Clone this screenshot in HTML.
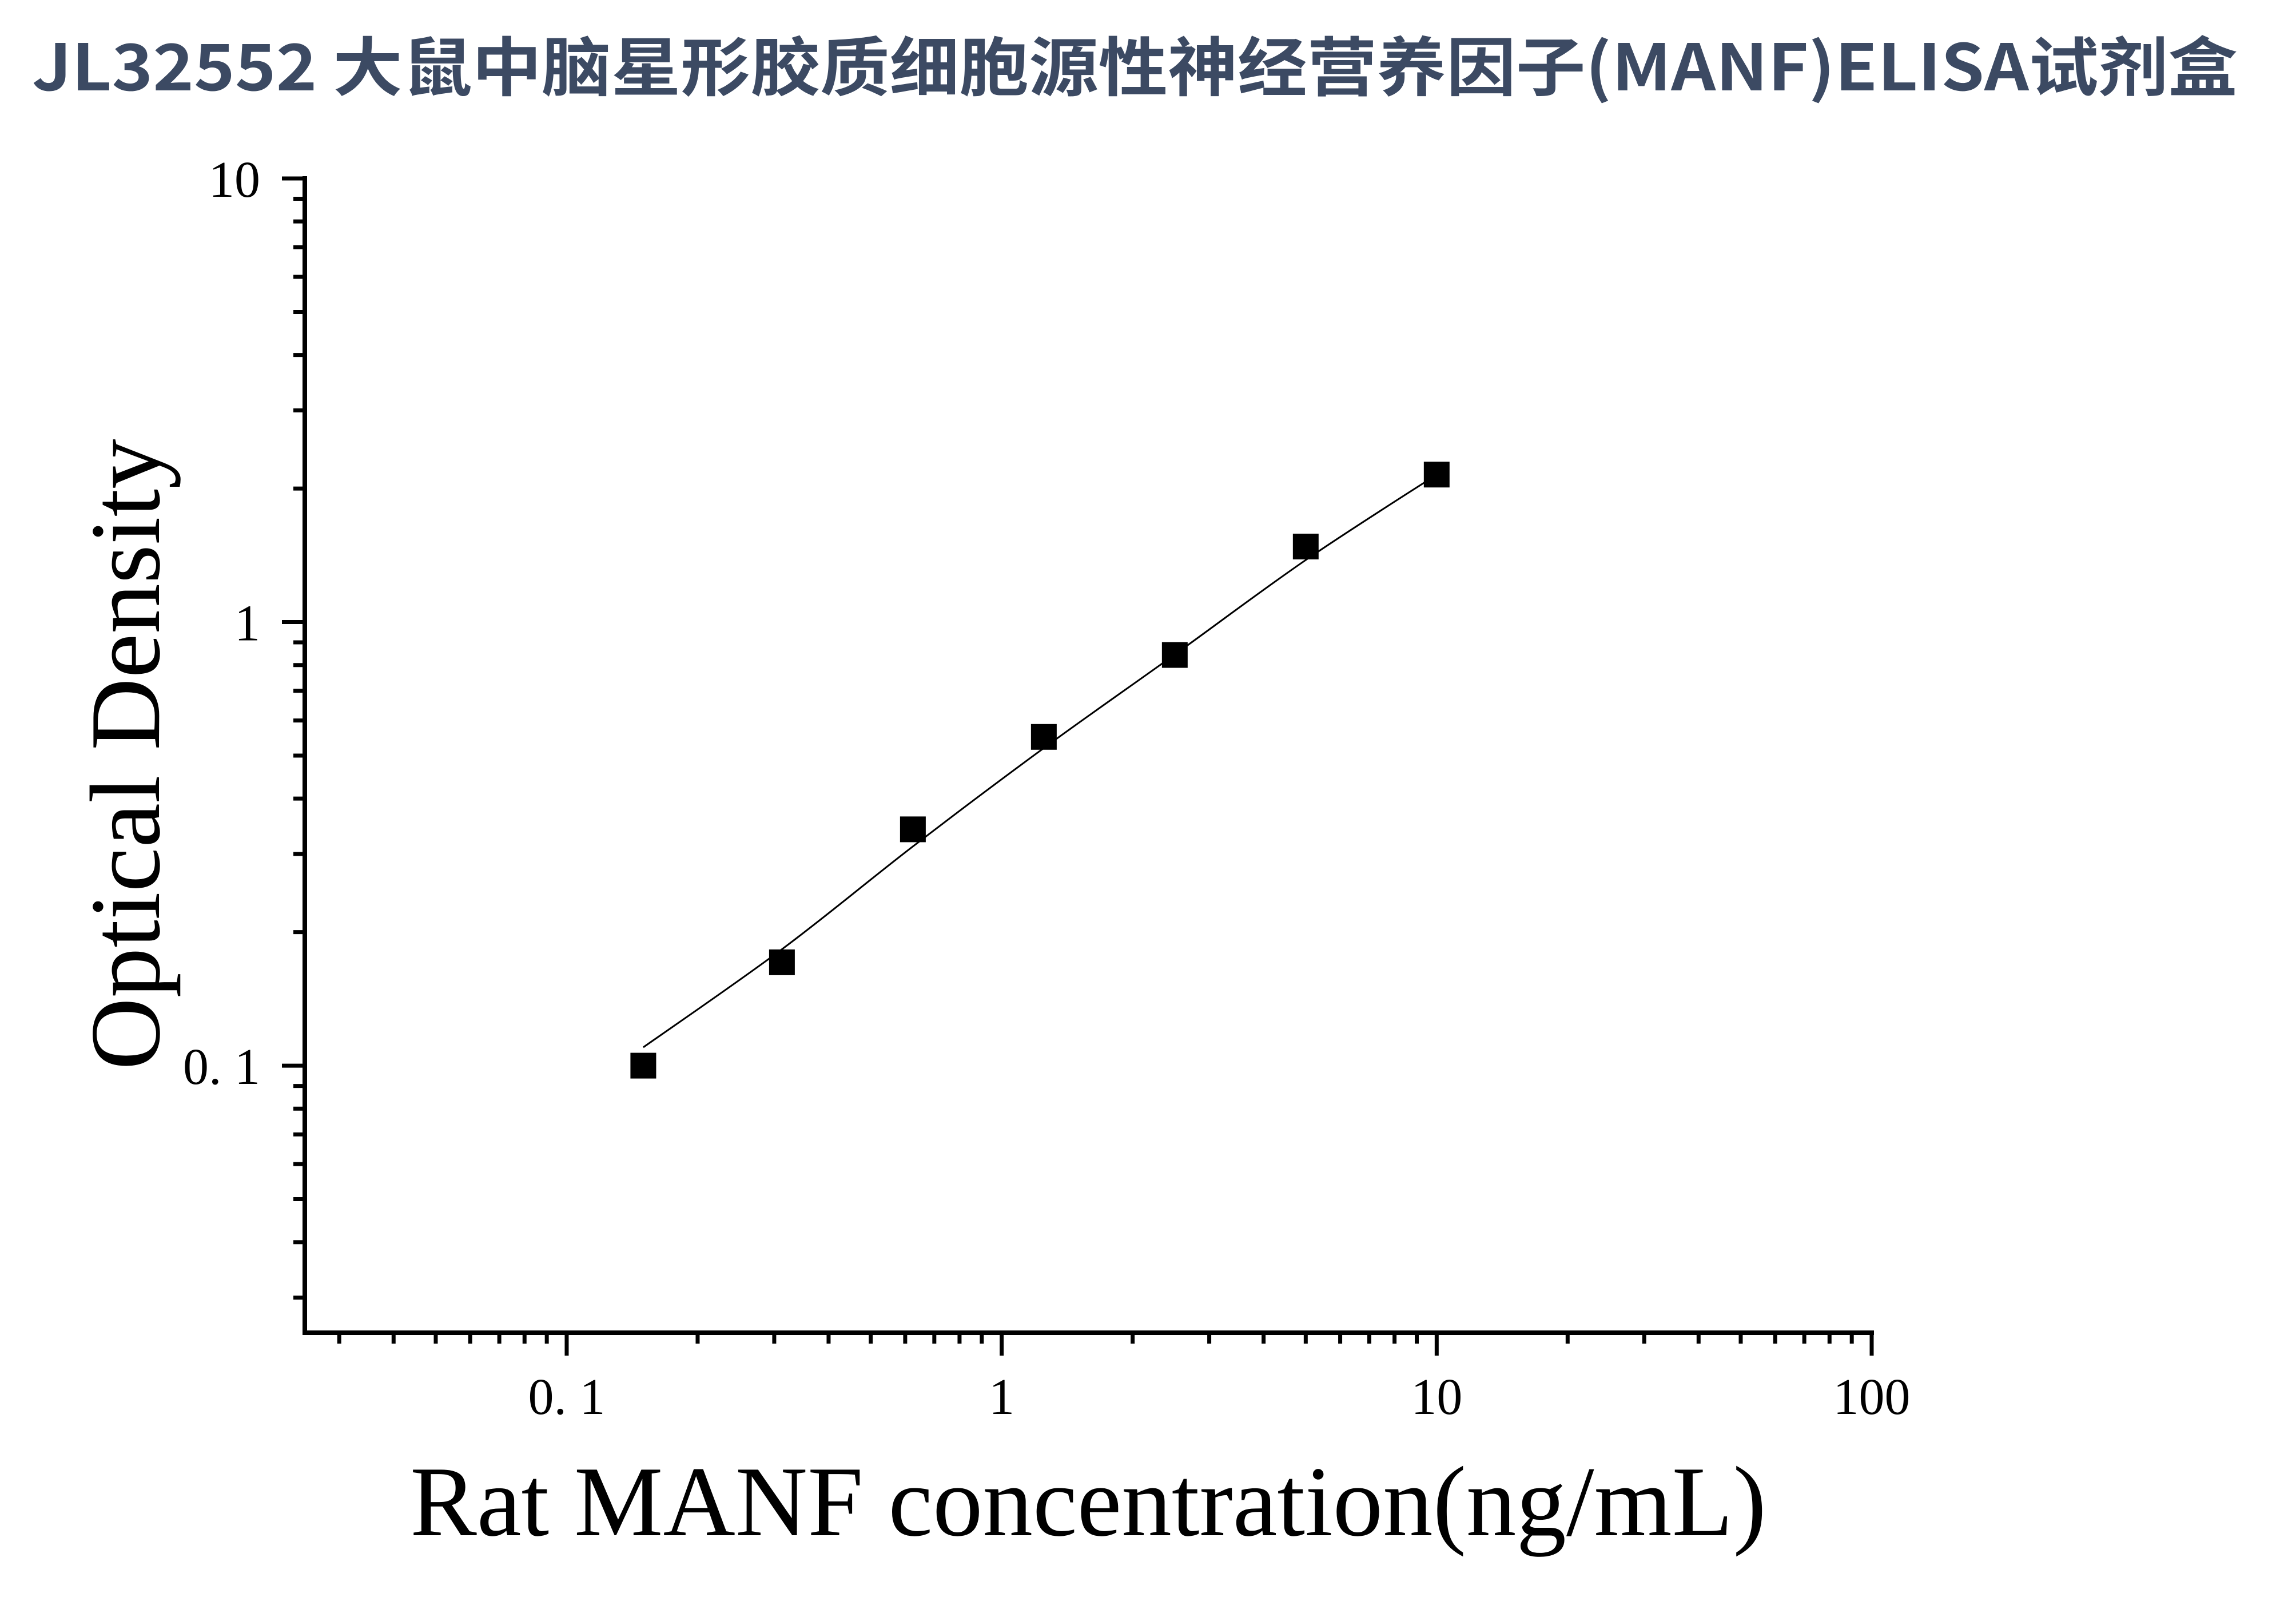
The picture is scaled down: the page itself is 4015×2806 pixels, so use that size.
<!DOCTYPE html>
<html><head><meta charset="utf-8"><style>
html,body{margin:0;padding:0;background:#fff;}
svg{display:block;}
</style></head><body>
<svg id="chart" width="4015" height="2806" viewBox="0 0 4015 2806" xmlns="http://www.w3.org/2000/svg">
<rect x="0" y="0" width="4015" height="2806" fill="#fff"/>
<text x="56" y="158" textLength="3857" lengthAdjust="spacingAndGlyphs" font-family="'Noto Sans CJK SC','Liberation Sans',sans-serif" font-weight="bold" font-size="112" fill="#3c4a63">JL32552 大鼠中脑星形胶质细胞源性神经营养因子(MANF)ELISA试剂盒</text>
<g id="axes"></g>
<g id="curve"></g>
<g id="points"></g>
<text transform="translate(278,1319) rotate(-90)" text-anchor="middle" font-family="'Liberation Serif',serif" font-size="175" fill="#000">Optical Density</text>
<text x="1903" y="2684" text-anchor="middle" font-family="'Liberation Serif',serif" font-size="175" fill="#000">Rat MANF concentration(ng/mL)</text>
</svg>
<script>
const concentrations = [0.15, 0.3125, 0.625, 1.25, 2.5, 5, 10];
const odValues = [0.1, 0.171, 0.341, 0.551, 0.843, 1.48, 2.15];
const curveX = [0.15, 0.3125, 0.625, 1.25, 2.5, 5, 10];
const curveY = [0.11, 0.183, 0.312, 0.52, 0.845, 1.38, 2.15];
const xTickValues = [0.1, 1, 10, 100];
const xTickLabels = ["0. 1", "1", "10", "100"];
const yTickValues = [0.1, 1, 10];
const yTickLabels = ["0. 1", "1", "10"];
const xDomain = [0.025, 100];
const yDomain = [0.025, 10];

const NS = "http://www.w3.org/2000/svg";
const X0 = 533, X1 = 3273, Y0 = 2330, Y1 = 312;
function xs(v){ const a=Math.log10(xDomain[0]), b=Math.log10(xDomain[1]); return X0 + (Math.log10(v)-a)/(b-a)*(X1-X0); }
function ys(v){ const a=Math.log10(yDomain[0]), b=Math.log10(yDomain[1]); return Y0 - (Math.log10(v)-a)/(b-a)*(Y0-Y1); }
function mk(tag, attrs, parent){ const e=document.createElementNS(NS,tag); for(const k in attrs) e.setAttribute(k, attrs[k]); parent.appendChild(e); return e; }

const axes = document.getElementById('axes');
const xAxis = mk('line',{x1:X0-4,y1:Y0,x2:X1+4,y2:Y0,stroke:'#000','stroke-width':8},axes);


const yAxis = mk('line',{x1:X0,y1:Y0+4,x2:X0,y2:Y1-4,stroke:'#000','stroke-width':8},axes);



for (let d=-2; d<=2; d++){
  for (let m=1; m<=9; m++){
    const v = m*Math.pow(10,d);
    if (v >= xDomain[0]*0.999 && v <= xDomain[1]*1.001){
      const x = xs(v); const major = (m===1);
      const t = mk('line',{x1:x,y1:Y0,x2:x,y2:Y0+(major?40:19),stroke:'#000','stroke-width':7},axes);
      
      
    }
    if (v >= yDomain[0]*0.999 && v <= yDomain[1]*1.001){
      const y = ys(v); const major = (m===1);
      const t = mk('line',{x1:X0,y1:y,x2:X0-(major?40:20),y2:y,stroke:'#000','stroke-width':7},axes);
      
      
    }
  }
}
xTickValues.forEach((v,i)=>{
  const t = mk('text',{x:xs(v),y:2472,'text-anchor':'middle','font-family':"'Liberation Serif',serif",'font-size':90,fill:'#000'},axes);
  t.textContent = xTickLabels[i];
  
  
});
yTickValues.forEach((v,i)=>{
  const t = mk('text',{x:455,y:ys(v)+32,'text-anchor':'end','font-family':"'Liberation Serif',serif",'font-size':90,fill:'#000'},axes);
  t.textContent = yTickLabels[i];
  
  
});

const pts = curveX.map((v,i)=>[xs(v), ys(curveY[i])]);
let d = 'M'+pts[0][0]+','+pts[0][1];
for (let i=0;i<pts.length-1;i++){
  const p0=pts[Math.max(0,i-1)], p1=pts[i], p2=pts[i+1], p3=pts[Math.min(pts.length-1,i+2)];
  const c1=[p1[0]+(p2[0]-p0[0])/6, p1[1]+(p2[1]-p0[1])/6];
  const c2=[p2[0]-(p3[0]-p1[0])/6, p2[1]-(p3[1]-p1[1])/6];
  d += ' C'+c1[0]+','+c1[1]+' '+c2[0]+','+c2[1]+' '+p2[0]+','+p2[1];
}
const path = mk('path',{d:d,fill:'none',stroke:'#000','stroke-width':3},document.getElementById('curve'));



const pg = document.getElementById('points');
concentrations.forEach((c,i)=>{
  const r = mk('rect',{x:xs(c)-22.5,y:ys(odValues[i])-22.5,width:45,height:45,fill:'#000'},pg);
  
  
});
</script>
</body></html>
